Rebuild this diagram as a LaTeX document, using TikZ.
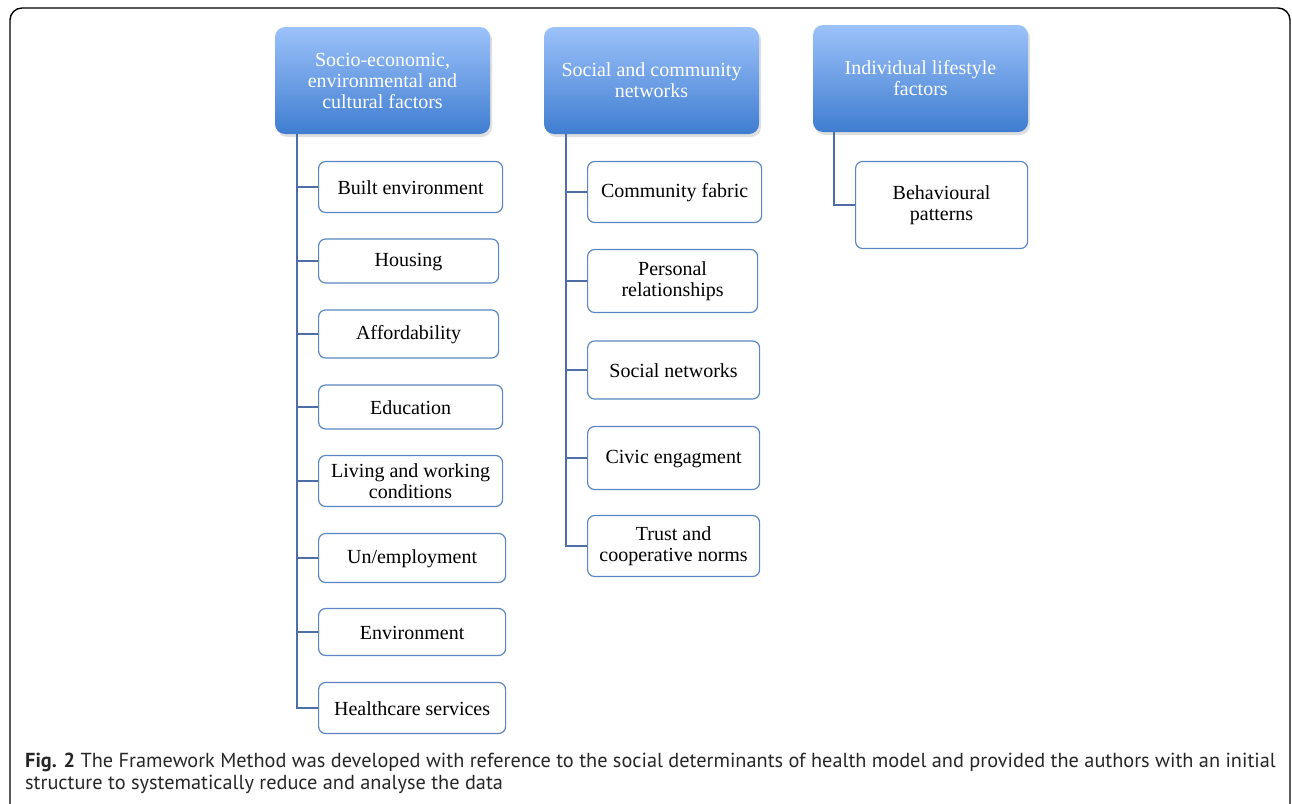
\documentclass[tikz,border=0pt]{standalone}
\usepackage{fontspec}
\setmainfont{Liberation Serif}
\newfontfamily\capfont{PT Sans}
\usetikzlibrary{shadows}

\definecolor{hdtop}{HTML}{9CC2FA}
\definecolor{hdbot}{HTML}{3F7DD0}
\definecolor{boxline}{HTML}{5A86C3}
\definecolor{linkline}{HTML}{4D6FA6}
\definecolor{captext}{HTML}{262626}

\tikzset{
  header/.style={rounded corners=10pt, top color=hdtop, bottom color=hdbot,
    text=white, align=center, minimum width=215pt, minimum height=107pt,
    inner sep=0pt, font=\fontsize{20}{21}\selectfont,
    drop shadow={shadow xshift=2pt, shadow yshift=-3pt, opacity=.25}},
  item/.style={draw=boxline, line width=1.2pt, rounded corners=7pt, fill=white,
    align=center, anchor=west, inner sep=0pt,
    font=\fontsize{20}{21}\selectfont},
  single/.style={item, text height=15pt},
  link/.style={draw=linkline, line width=1.4pt},
  caption/.style={anchor=base west, inner sep=0pt, text=captext,
    font=\capfont\fontsize{20.3}{24}\selectfont}
}

\begin{document}
\begin{tikzpicture}[x=1pt,y=-1pt]
\useasboundingbox (0,0) rectangle (1292,803);
% frame
\draw[line width=1.4pt, rounded corners=12pt] (10,830) -- (10,8) -- (1290,8) -- (1290,830);

% headers
\node[header] (soc) at (382.5,80.5) {Socio-economic,\\environmental and\\cultural factors};
\node[header] (com) at (651.5,80.5) {Social and community\\networks};
\node[header] (ind) at (920.5,78.5) {Individual lifestyle\\factors};

% socio-economic items
\node[single, minimum width=184pt, minimum height=51pt] (built) at (318,187) {Built environment};
\node[single, minimum width=180pt, minimum height=44pt] (housing) at (318,261) {Housing};
\node[single, minimum width=180pt, minimum height=48pt] (afford) at (318,334) {Affordability};
\node[single, minimum width=184pt, minimum height=44pt] (educ) at (318,407) {Education};
\node[item, minimum width=184pt, minimum height=51pt] (living) at (318,481) {Living and working\\conditions};
\node[single, minimum width=187pt, minimum height=49pt] (employ) at (318,558) {Un/employment};
\node[single, minimum width=187pt, minimum height=47pt] (environ) at (318,632) {Environment};
\node[single, minimum width=187pt, minimum height=51pt] (health) at (318,708) {Healthcare services};

% community items
\node[single, minimum width=174pt, minimum height=61pt] (fabric) at (587,192) {Community fabric};
\node[item, minimum width=170pt, minimum height=63pt] (personal) at (587,281) {Personal\\relationships};
\node[single, minimum width=172pt, minimum height=58pt] (socnet) at (587,370) {Social networks};
\node[single, minimum width=172pt, minimum height=63pt] (civic) at (587,458) {Civic engagment};
\node[item, minimum width=172pt, minimum height=61pt] (trust) at (587,546) {Trust and\\cooperative norms};

% lifestyle items
\node[item, minimum width=172pt, minimum height=87pt] (behav) at (855,205) {Behavioural\\patterns};

% connectors
\draw[link] ([xshift=22pt]soc.south west) |- (health.west);
\foreach \n in {built,housing,afford,educ,living,employ,environ}
  \draw[link] ([xshift=22pt]soc.south west) |- (\n.west);
\draw[link] ([xshift=22pt]com.south west) |- (trust.west);
\foreach \n in {fabric,personal,socnet,civic}
  \draw[link] ([xshift=22pt]com.south west) |- (\n.west);
\draw[link] ([xshift=21pt]ind.south west) |- (behav.west);

% caption
\node[caption] (cap1) at (25,767) {\textbf{Fig. 2} The Framework Method was developed with reference to the social determinants of health model and provided the authors with an initial};
\node[caption] (cap2) at (25,789) {structure to systematically reduce and analyse the data};
\end{tikzpicture}
\end{document}
